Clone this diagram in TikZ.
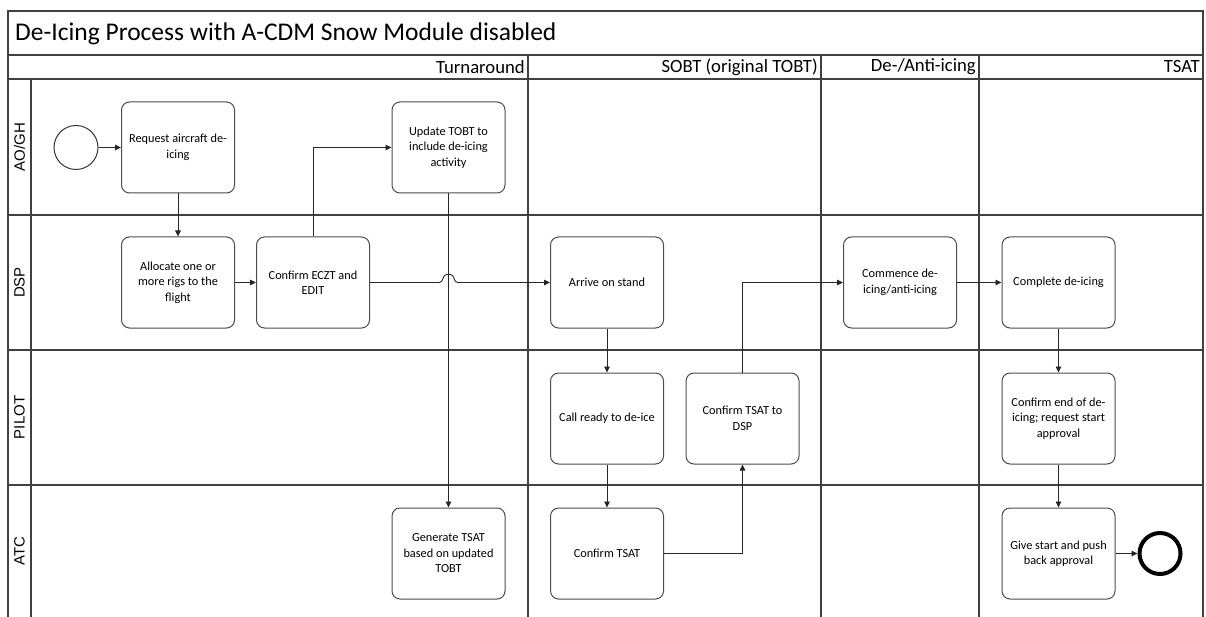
\documentclass[tikz,border=0pt]{standalone}
\usepackage{fontspec}
\setmainfont{Carlito}
\newfontfamily\lanefont{Liberation Sans}
\usetikzlibrary{arrows.meta,calc}
\begin{document}
\begin{tikzpicture}[x=1pt,y=-1pt,
  frame/.style={draw=black!75, line width=1.3pt},
  task/.style={draw=black!70, line width=1pt, rounded corners=8pt,
    minimum width=113pt, minimum height=91pt, align=center, inner sep=2pt,
    font=\fontsize{12.3}{15.5}\selectfont},
  flow/.style={draw=black!85, line width=0.9pt, -{Triangle[length=6pt,width=5.5pt]}},
  lanelabel/.style={rotate=90, inner sep=0pt, font=\lanefont\fontsize{15}{18}\selectfont},
  phase/.style={anchor=east, inner sep=1pt, font=\fontsize{18.7}{22}\selectfont},
]
\useasboundingbox (0,0) rectangle (1206,617);

% pool frame, title row, phase row and lanes
\draw[frame] (8,617) -- (8,11) -- (1203,11) -- (1203,617);
\draw[frame] (8,55) -- (1203,55);
\draw[frame] (8,79) -- (1203,79);
\foreach \y in {215,350,485} \draw[frame] (8,\y) -- (1203,\y);
\draw[frame] (31,79) -- (31,617);
\foreach \x in {528,821,979} \draw[frame] (\x,55) -- (\x,617);

\node[anchor=west, inner sep=0pt, font=\fontsize{25.5}{30}\selectfont] (title) at (15,34)
  {De-Icing Process with A-CDM Snow Module disabled};

\node[phase] (phTurn) at (526,67) {Turnaround};
\node[phase] (phSobt) at (819,67) {SOBT (original TOBT)};
\node[phase] (phDeice) at (977,67) {De-/Anti-icing};
\node[phase] (phTsat) at (1201,67) {TSAT};

\node[lanelabel] (lnAo) at (19.5,147) {AO/GH};
\node[lanelabel] (lnDsp) at (19.5,282.5) {DSP};
\node[lanelabel] (lnPilot) at (19.5,417.5) {PILOT};
\node[lanelabel] (lnAtc) at (19.5,551) {ATC};

% events
\node[circle, draw=black!80, line width=1pt, minimum size=44pt, inner sep=0pt] (start) at (76,147.5) {};
\node[circle, draw=black, line width=4pt, minimum size=41pt, inner sep=0pt] (end) at (1160,553.5) {};

% tasks
\node[task] (req) at (178,147.5) {Request aircraft de-\\icing};
\node[task] (upd) at (448.5,147.5) {Update TOBT to\\include de-icing\\activity};
\node[task] (alloc) at (178,282.5) {Allocate one or\\more rigs to the\\flight};
\node[task] (eczt) at (313,282.5) {Confirm ECZT and\\EDIT};
\node[task] (arrive) at (607,282.5) {Arrive on stand};
\node[task] (commence) at (900,282.5) {Commence de-\\icing/anti-icing};
\node[task] (complete) at (1058.5,282.5) {Complete de-icing};
\node[task] (callready) at (607,418.5) {Call ready to de-ice};
\node[task] (ctdsp) at (742.5,418.5) {Confirm TSAT to\\DSP};
\node[task] (confend) at (1058.5,418.5) {Confirm end of de-\\icing; request start\\approval};
\node[task] (gen) at (448.5,553.5) {Generate TSAT\\based on updated\\TOBT};
\node[task] (ctsat) at (607,553.5) {Confirm TSAT};
\node[task] (give) at (1058.5,553.5) {Give start and push\\back approval};

% sequence flows
\draw[flow] (start) -- (req);
\draw[flow] (req) -- (alloc);
\draw[flow] (alloc) -- (eczt);
\draw[flow] (eczt.north) |- (upd.west);
\draw[flow] (upd) -- (gen);
\coordinate (hop) at (upd.south |- eczt.east);
\draw[flow] (eczt.east) -- ($(hop)+(-9,0)$)
  .. controls ($(hop)+(-5,0)$) and ($(hop)+(-6,-8)$) .. ($(hop)+(-2,-8)$)
  -- ($(hop)+(2,-8)$)
  .. controls ($(hop)+(6,-8)$) and ($(hop)+(5,0)$) .. ($(hop)+(9,0)$)
  -- (arrive.west);
\draw[flow] (arrive) -- (callready);
\draw[flow] (callready) -- (ctsat);
\draw[flow] (ctsat.east) -| (ctdsp.south);
\draw[flow] (ctdsp.north) |- (commence.west);
\draw[flow] (commence) -- (complete);
\draw[flow] (complete) -- (confend);
\draw[flow] (confend) -- (give);
\draw[flow] (give) -- (end);
\end{tikzpicture}
\end{document}
